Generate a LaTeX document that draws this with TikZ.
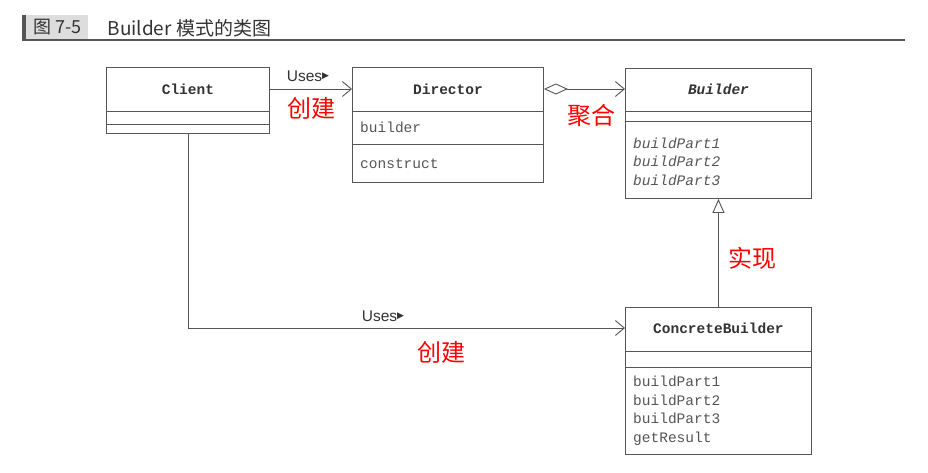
\documentclass[tikz,border=0pt]{standalone}
\usepackage{fontspec}
\setmainfont{Liberation Sans}
\setmonofont{Liberation Mono}
\newfontfamily\cjk{Noto Sans CJK SC}
\newfontfamily\symfont{DejaVu Sans}
\usetikzlibrary{arrows.meta,positioning}

\definecolor{linegray}{HTML}{555555}
\definecolor{textgray}{HTML}{333333}
\definecolor{membergray}{HTML}{555555}
\definecolor{tagfill}{HTML}{DDDDDD}

\tikzset{
  umlbox/.style={draw=linegray, line width=0.9pt, inner sep=0pt, anchor=north west},
  classname/.style={font=\ttfamily\bfseries\fontsize{14.5}{16}\selectfont, text=textgray},
  member/.style={font=\ttfamily\fontsize{14.5}{18.5}\selectfont, text=membergray, align=left, anchor=base west, inner sep=0pt},
  sepline/.style={draw=linegray, line width=0.9pt},
  redlabel/.style={font=\cjk\fontsize{24}{26}\selectfont, text=red},
  useslabel/.style={font=\fontsize{15.5}{17}\selectfont, text=textgray},
  uses/.style={draw=linegray, line width=0.9pt, -{Straight Barb[length=9pt,width=15pt]}},
  aggregate/.style={draw=linegray, line width=0.9pt, {Diamond[open,length=24pt,width=11pt]}-{Straight Barb[length=9pt,width=15pt]}},
  realize/.style={draw=linegray, line width=0.9pt, -{Triangle[open,length=14pt,width=12pt]}},
}

\newcommand{\usesmark}{Uses{\symfont\fontsize{9}{9}\selectfont\raisebox{2.5pt}{▶}}}

\begin{document}
\begin{tikzpicture}[x=1pt, y=-1pt]
  \useasboundingbox (0,0) rectangle (928,472);

  % title bar
  \fill[linegray] (22,15) rectangle (26,39);
  \node[fill=tagfill, inner sep=0pt, minimum width=62pt, minimum height=24pt, anchor=north west,
        font=\cjk\fontsize{18}{20}\selectfont, text=textgray] (figno) at (26,15) {图 7-5};
  \node[anchor=west, font=\cjk\fontsize{19}{21}\selectfont, text=textgray] (figtitle) at (104,28) {Builder 模式的类图};
  \draw[linegray, line width=1.2pt] (22,40) -- (905,40);

  % classes
  \node[umlbox, minimum width=163pt, minimum height=66pt] (client) at (106,67) {};
  \node[classname] (clientname) at (client.north |- 0,89) {Client};
  \draw[sepline] (client.west |- 0,111) -- (client.east |- 0,111);
  \draw[sepline] (client.west |- 0,124) -- (client.east |- 0,124);

  \node[umlbox, minimum width=191pt, minimum height=115pt] (director) at (352,67) {};
  \node[classname] (directorname) at (director.north |- 0,89) {Director};
  \draw[sepline] (director.west |- 0,111) -- (director.east |- 0,111);
  \draw[sepline] (director.west |- 0,144) -- (director.east |- 0,144);
  \node[member] (directorfield) at (360,132) {builder};
  \node[member] (directorop) at (360,168) {construct};

  \node[umlbox, minimum width=186pt, minimum height=130pt] (builder) at (625,68) {};
  \node[classname, font=\ttfamily\bfseries\itshape\fontsize{14.5}{16}\selectfont] (buildername) at (builder.north |- 0,89) {Builder};
  \draw[sepline] (builder.west |- 0,111) -- (builder.east |- 0,111);
  \draw[sepline] (builder.west |- 0,121) -- (builder.east |- 0,121);
  % base anchor of a multi-line node sits on its last line
  \node[member, font=\ttfamily\itshape\fontsize{14.5}{18.5}\selectfont] (builderops) at (633,185)
    {buildPart1\\buildPart2\\buildPart3};

  \node[umlbox, minimum width=186pt, minimum height=147pt] (concrete) at (625,307) {};
  \node[classname] (concretename) at (concrete.north |- 0,328) {ConcreteBuilder};
  \draw[sepline] (concrete.west |- 0,351) -- (concrete.east |- 0,351);
  \draw[sepline] (concrete.west |- 0,367) -- (concrete.east |- 0,367);
  \node[member] (concreteops) at (633,442)
    {buildPart1\\buildPart2\\buildPart3\\getResult};

  % relations
  \draw[uses] (clientname -| client.east) -- (clientname -| director.west);
  \draw[aggregate] (directorname -| director.east) -- (buildername -| builder.west);
  \draw[realize] (concrete.north) -- (builder.south);
  \draw[uses] (client.south) |- (concretename -| concrete.west);

  % labels
  \node[useslabel] (usestop) at (308,76) {\usesmark};
  \node[redlabel] (createtop) at (311,108) {创建};
  \node[redlabel] (aggtext) at (591,115) {聚合};
  \node[redlabel] (impltext) at (752,258) {实现};
  \node[useslabel] (usesbottom) at (383,316) {\usesmark};
  \node[redlabel] (createbottom) at (441,352) {创建};
\end{tikzpicture}
\end{document}
